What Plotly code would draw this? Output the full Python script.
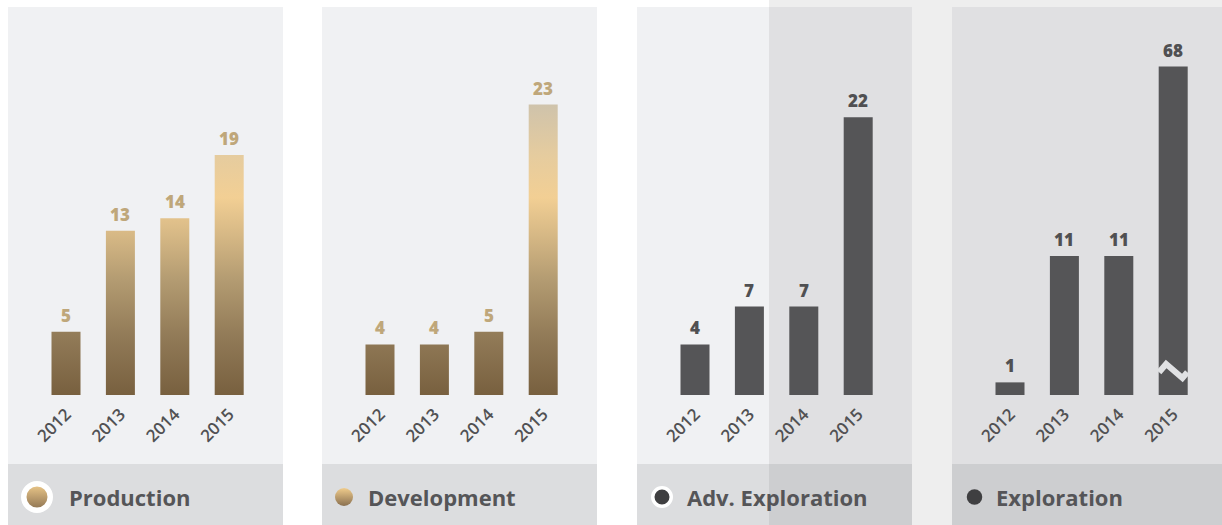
import plotly.graph_objects as go

# ---------------- data ----------------
years = ["2012", "2013", "2014", "2015"]
production = [5, 13, 14, 19]
development = [4, 4, 5, 23]
adv_exploration = [4, 7, 7, 22]
exploration = [1, 11, 11, 68]
panel_titles = ["Production", "Development", "Adv. Exploration", "Exploration"]
exploration_cap = 26  # displayed height of broken bar

# ---------------- layout constants ----------------
W, H = 1222, 525
panels_px = [(8, 283), (322, 597), (637, 912), (952, 1222)]
spacing = 54.4
first_off = 58
bar_w = 29 / spacing
y_bottom_px, y_top_px = 395, 7
px_per_unit = 12.63
y_max = (y_bottom_px - y_top_px) / px_per_unit
band_top_px = 464

GOLD_SCALE = [[0, "#78603f"], [0.2, "#917a57"], [0.4, "#b49c72"], [0.55, "#d6b885"],
              [0.68, "#f2cf94"], [0.82, "#e6cc9e"], [1, "#cfc3ab"]]
DARK = "#555557"
GOLD_TXT = "#bfa77a"
DARK_TXT = "#505052"
FONT = "Open Sans"

fig = go.Figure()

series = [production, development, adv_exploration, exploration]
kinds = ["gold", "gold", "dark", "dark"]

shapes = []
annotations = []

for k, ((x0, x1), vals, kind) in enumerate(zip(panels_px, series, kinds)):
    ax = "" if k == 0 else str(k + 1)
    xa, ya = "x" + ax, "y" + ax
    width_px = x1 - x0
    xr = [-first_off / spacing, (width_px - first_off) / spacing]
    fig.update_layout(**{
        "xaxis" + ax: dict(domain=[x0 / W, x1 / W], range=xr, showgrid=False, zeroline=False,
                           showline=False, tickvals=list(range(len(years))), ticktext=years,
                           tickangle=-45, ticks="", ticklabelstandoff=5,
                           tickfont=dict(family=FONT, size=17, weight=600, color="#515153"),
                           anchor=ya, fixedrange=True),
        "yaxis" + ax: dict(domain=[1 - y_bottom_px / H, 1 - y_top_px / H], range=[0, y_max],
                           visible=False, anchor=xa, fixedrange=True),
    })
    # panel backgrounds
    shapes.append(dict(type="rect", xref="paper", yref="paper", x0=x0 / W, x1=x1 / W,
                       y0=1 - band_top_px / H, y1=1 - y_top_px / H, fillcolor="#f0f1f3",
                       line_width=0, layer="below"))
    shapes.append(dict(type="rect", xref="paper", yref="paper", x0=x0 / W, x1=x1 / W,
                       y0=0, y1=1 - band_top_px / H, fillcolor="#dcdddf",
                       line_width=0, layer="below"))

    shown = [min(v, exploration_cap) if k == 3 else v for v in vals]
    for i, (v, s) in enumerate(zip(vals, shown)):
        if kind == "gold":
            fig.add_trace(go.Scatter(
                x=[i - bar_w / 2, i - bar_w / 2, i + bar_w / 2, i + bar_w / 2, i - bar_w / 2],
                y=[0, s, s, 0, 0], mode="lines", line=dict(width=0), fill="toself",
                fillgradient=dict(type="vertical", colorscale=GOLD_SCALE, start=0, stop=23),
                xaxis=xa, yaxis=ya, showlegend=False, hoverinfo="skip"))
        annotations.append(dict(x=i, y=s, xref=xa, yref=ya, text=str(v), showarrow=False,
                                yanchor="bottom", yshift=3,
                                font=dict(family=FONT, size=17, weight=800,
                                          color=GOLD_TXT if kind == "gold" else DARK_TXT)))
    if kind == "dark":
        fig.add_trace(go.Bar(x=list(range(len(years))), y=shown, width=bar_w,
                             marker=dict(color=DARK, line_width=0), xaxis=xa, yaxis=ya,
                             showlegend=False, hoverinfo="skip"))
    if k == 3:
        j = len(vals) - 1
        fig.add_trace(go.Scatter(x=[j - 0.26, j - 0.13, j + 0.17, j + 0.26],
                                 y=[1.8, 2.45, 1.35, 1.8], mode="lines",
                                 line=dict(color="#e0e1e3", width=6),
                                 xaxis=xa, yaxis=ya, showlegend=False, hoverinfo="skip"))

# darker overlay on right part
shapes.append(dict(type="rect", xref="paper", yref="paper", x0=769 / W, x1=1, y0=0, y1=1,
                   fillcolor="rgba(0,0,0,0.066)", line_width=0, layer="below"))

# legend markers on a pixel overlay axis
fig.update_layout(
    xaxis5=dict(domain=[0, 1], range=[0, W], visible=False, anchor="y5", fixedrange=True),
    yaxis5=dict(domain=[0, 1], range=[H, 0], visible=False, anchor="x5", fixedrange=True),
)
legend_marks = [
    dict(x=37, size=26.5, lw=5.5, color="#f0cc8c", grad="#8a7050"),
    dict(x=344, size=18, lw=0, color="#f0cc8c", grad="#8a7050"),
    dict(x=662, size=18.5, lw=3.5, color="#3f3f41", grad=None),
    dict(x=974.5, size=15.5, lw=0, color="#3f3f41", grad=None),
]
label_x = [67, 366, 685, 994]
for m, title, lx in zip(legend_marks, panel_titles, label_x):
    marker = dict(size=m["size"], color=m["color"], line=dict(color="white", width=m["lw"]))
    if m["grad"]:
        marker["gradient"] = dict(type="vertical", color=m["grad"])
    fig.add_trace(go.Scatter(x=[m["x"]], y=[497], mode="markers", marker=marker,
                             xaxis="x5", yaxis="y5", showlegend=False, hoverinfo="skip"))
    annotations.append(dict(x=lx / W, y=1 - 497 / H, xref="paper", yref="paper", text=title,
                            showarrow=False, xanchor="left", yanchor="middle",
                            font=dict(family=FONT, size=22, weight=700, color="#555558")))

fig.update_layout(
    width=W, height=H, margin=dict(l=0, r=0, t=0, b=0),
    paper_bgcolor="white", plot_bgcolor="rgba(0,0,0,0)",
    shapes=shapes, annotations=annotations, showlegend=False,
)
fig.write_html("out.html", config={"displayModeBar": False},
               post_script="document.body.style.margin='0';")
